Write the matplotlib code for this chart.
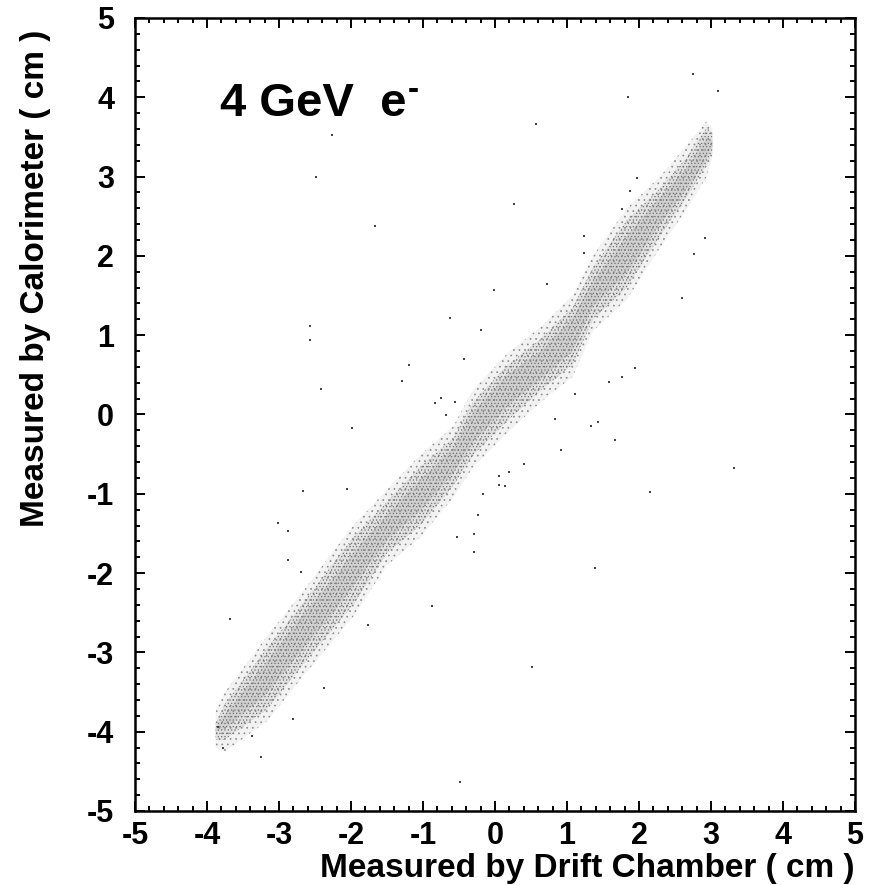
import matplotlib
matplotlib.use("Agg")
import matplotlib.pyplot as plt
from matplotlib.ticker import MultipleLocator

plt.rcParams['font.family'] = ['Liberation Sans', 'DejaVu Sans']
plt.rcParams['font.weight'] = 'bold'
plt.rcParams['axes.unicode_minus'] = False
plt.rcParams['hatch.linewidth'] = 0.5

# band of the e- scatter (cm)
band_x = [-3.88, -3.75, -3.17, -2.71, -2.25, -1.97, -1.50, -1.04, -0.58, -0.31,
          0.17, 0.63, 1.08, 1.36, 1.83, 2.29, 2.67, 2.94, 3.02]
# sparse fringe of the band
fringe_hi = [-3.75, -3.50, -2.80, -2.28, -1.73, -1.40, -0.95, -0.51, -0.15, 0.30,
             0.77, 1.10, 1.50, 2.00, 2.60, 3.00, 3.40, 3.70, 3.60]
fringe_lo = [-4.20, -4.25, -3.87, -3.35, -2.85, -2.55, -1.90, -1.55, -1.05, -0.67,
             -0.23, 0.15, 0.48, 1.05, 1.45, 2.10, 2.60, 3.00, 3.25]
# main body
outer_hi = [-3.90, -3.65, -2.95, -2.43, -1.88, -1.55, -1.10, -0.66, -0.30, 0.15,
            0.62, 0.95, 1.35, 1.85, 2.45, 2.85, 3.25, 3.62, 3.55]
outer_lo = [-4.10, -4.10, -3.72, -3.20, -2.70, -2.40, -1.75, -1.40, -0.90, -0.52,
            -0.08, 0.30, 0.63, 1.20, 1.60, 2.25, 2.75, 3.15, 3.30]
# densest part
core_hi = [-3.95, -3.78, -3.12, -2.57, -2.07, -1.75, -1.26, -0.82, -0.42, 0.02,
           0.50, 0.80, 1.22, 1.68, 2.25, 2.74, 3.12, 3.50, 3.45]
core_lo = [-4.00, -3.97, -3.52, -3.00, -2.50, -2.17, -1.58, -1.22, -0.74, -0.36,
           0.10, 0.44, 0.80, 1.36, 1.78, 2.40, 2.85, 3.22, 3.38]

# isolated events away from the band
out_x = [-2.27, -2.49, -1.66, -0.01, -0.62, -2.57, -2.57, -0.19, -0.43, -1.19,
         -1.29, -2.41, -0.75, -0.83, -0.55, -0.68,
         2.75, 3.10, 1.85, 0.57, 0.26, 2.92, 2.76, 1.23, 1.24, 0.72, 2.60, 1.94,
         1.76, 1.58, 1.11, 1.97, 1.87, 1.76,
         -1.99, -2.66, -2.06, -3.01, -2.87, -2.88, -2.70, -3.68, -2.37, -2.80,
         -3.78, -3.25, -0.49, -0.87, -1.76, -0.23, -0.29, -0.29, -0.53, -0.16,
         -3.85, -3.38,
         3.32, 2.15, 1.39, 0.52, 1.67, 1.43, 1.33, 0.92, 0.84, 0.40, 0.06, 0.14,
         0.06, 0.19]
out_y = [3.52, 2.99, 2.38, 1.57, 1.22, 1.11, 0.94, 1.06, 0.70, 0.62,
         0.42, 0.32, 0.21, 0.14, 0.16, -0.01,
         4.29, 4.08, 4.00, 3.66, 2.65, 2.22, 2.02, 2.25, 2.04, 1.65, 1.47, 0.59,
         0.47, 0.41, 0.26, 2.98, 2.82, 2.59,
         -0.17, -0.97, -0.94, -1.37, -1.47, -1.84, -1.98, -2.58, -3.45, -3.84,
         -4.20, -4.32, -4.63, -2.41, -2.66, -1.27, -1.51, -1.73, -1.55, -1.00,
         -3.94, -4.05,
         -0.67, -0.98, -1.93, -3.19, -0.32, -0.09, -0.14, -0.45, -0.06, -0.63,
         -0.89, -0.90, -0.78, -0.72]

ticks = [-5, -4, -3, -2, -1, 0, 1, 2, 3, 4, 5]

fig = plt.figure(figsize=(8.77, 8.85), dpi=100)
ax = fig.add_axes([135 / 877, 74 / 885, 720 / 877, 793 / 885])

ax.fill_between(band_x, fringe_lo, fringe_hi, facecolor='#f2f2f2', edgecolor='none', linewidth=0)
ax.fill_between(band_x, outer_lo, outer_hi, facecolor='#e2e2e2', edgecolor='none', linewidth=0)
ax.fill_between(band_x, core_lo, core_hi, facecolor='#d0d0d0', edgecolor='none', linewidth=0)
ax.fill_between(band_x, fringe_lo, fringe_hi, facecolor='none', edgecolor='#8a8a8a',
                hatch='...', linewidth=0)
ax.fill_between(band_x, outer_lo, outer_hi, facecolor='none', edgecolor='#707070',
                hatch='.....', linewidth=0)
ax.scatter(out_x, out_y, s=1.6, marker='s', color='#444444', linewidths=0)

ax.set_xlim(-5, 5)
ax.set_ylim(-5, 5)
ax.set_xticks(ticks)
ax.set_yticks(ticks)
ax.xaxis.set_minor_locator(MultipleLocator(0.2))
ax.yaxis.set_minor_locator(MultipleLocator(0.2))
ax.tick_params(which='both', direction='in', top=True, right=True, width=1.4)
ax.tick_params(which='major', length=7.5, labelsize=22)
ax.tick_params(which='minor', length=3.8)
ax.tick_params(axis='x', pad=7)
ax.tick_params(axis='y', pad=15)
for sp in ax.spines.values():
    sp.set_linewidth(1.8)

ax.set_xlabel("Measured by Drift Chamber ( cm )", fontsize=24, fontweight='bold',
              loc='right', labelpad=2)
ax.set_ylabel("Measured by Calorimeter ( cm )", fontsize=24, fontweight='bold',
              loc='top')
ax.yaxis.set_label_coords(-0.117, 0.985)

t = ax.text(-3.82, 3.76, "4 GeV  e", fontsize=34, fontweight='bold', va='baseline')
ax.annotate("-", xy=(1, 1), xycoords=t, xytext=(1, 5), textcoords='offset points',
            fontsize=24, fontweight='bold', va='top', ha='left')

fig.savefig("out.png", dpi=100)
